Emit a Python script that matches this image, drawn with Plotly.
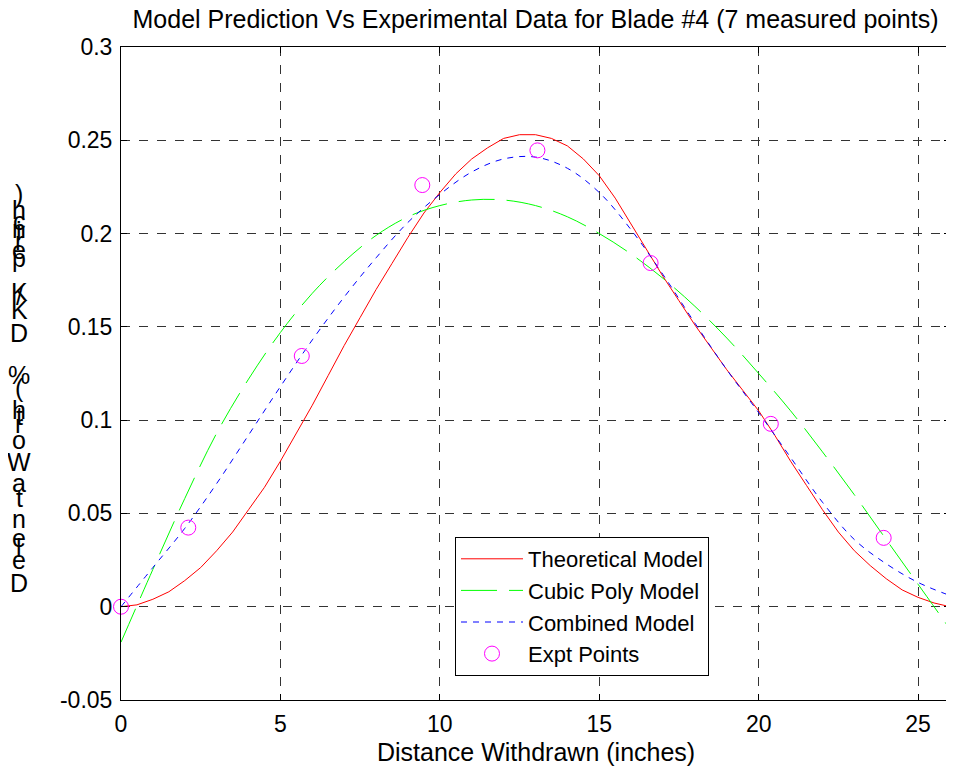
import plotly.graph_objects as go

# ---- data ----
x_theory = [i * 0.5 for i in range(53)]
theoretical = [0.000, 0.001, 0.004, 0.008, 0.014, 0.021, 0.030, 0.040, 0.052, 0.064,
               0.078, 0.093, 0.108, 0.124, 0.140, 0.155, 0.170, 0.184, 0.198, 0.211,
               0.222, 0.232, 0.240, 0.246, 0.251, 0.253, 0.253, 0.251, 0.247, 0.240,
               0.231, 0.219, 0.205, 0.191, 0.177, 0.164, 0.151, 0.139, 0.127, 0.116,
               0.105, 0.092, 0.078, 0.065, 0.052, 0.040, 0.030, 0.022, 0.015, 0.009,
               0.005, 0.002, 0.000]
x_model = list(range(27))
cubic_poly = [-0.019, 0.020, 0.058, 0.093, 0.122, 0.147, 0.168, 0.185, 0.199, 0.209,
              0.215, 0.218, 0.218, 0.215, 0.209, 0.200, 0.189, 0.176, 0.161, 0.144,
              0.125, 0.105, 0.083, 0.060, 0.036, 0.012, -0.012]
combined = [0.0, 0.021, 0.042, 0.066, 0.092, 0.118, 0.143, 0.166, 0.187, 0.206,
            0.221, 0.233, 0.240, 0.241, 0.235, 0.222, 0.202, 0.178, 0.152, 0.127,
            0.104, 0.080, 0.056, 0.036, 0.023, 0.013, 0.006]
expt_x = [0.0, 2.11, 5.67, 9.45, 13.06, 16.61, 20.38, 23.92, 26.05]
expt_y = [0.0, 0.0424, 0.1344, 0.226, 0.2446, 0.1842, 0.098, 0.0369, 0.0]

x_tickvals = [0, 5, 10, 15, 20, 25]
x_ticktext = ["0", "5", "10", "15", "20", "25"]
y_tickvals = [-0.05, 0, 0.05, 0.1, 0.15, 0.2, 0.25, 0.3]
y_ticktext = ["-0.05", "0", "0.05", "0.1", "0.15", "0.2", "0.25", "0.3"]

title_text = "Model Prediction Vs Experimental Data for Blade #4 (7 measured points)"
xlabel_text = "Distance Withdrawn (inches)"
# y label as drawn in the reference: characters stacked vertically (top -> bottom)
ylabel_chars = [")", "h", "c", "n", "i", "r", "e", "p", "K", "/", "K", "D", "%", "(",
                "h", "t", "r", "o", "W", "a", "t", "n", "e", "l", "e", "D"]

# ---- layout constants (page pixels; the page body has an 8px margin) ----
OFF = 8
W, H = 954 - OFF, 774 - OFF
PLOT_L, PLOT_R, PLOT_T, PLOT_B = 121, 950, 47, 700
ML, MR, MT = PLOT_L - OFF, W - (PLOT_R - OFF), PLOT_T - OFF
MB = H - (PLOT_B - OFF)
PW, PH = PLOT_R - PLOT_L, PLOT_B - PLOT_T
ylabel_py = [194, 210, 221, 229, 231, 241, 250, 258, 292, 296, 310, 333, 375, 388,
             410, 416, 424, 440, 462, 483, 498, 519, 538, 548, 560, 583]


def px_x(p):
    return (p - PLOT_L) / PW


def px_y(p):
    return (PLOT_B - p) / PH


FONT = "Liberation Sans, Arial, sans-serif"
TXT = 25
TICK = 23
LEG = 22

fig = go.Figure()
fig.add_trace(go.Scatter(x=x_theory, y=theoretical, mode="lines", name="Theoretical Model",
                         line=dict(color="#ff0000", width=1)))
fig.add_trace(go.Scatter(x=x_model, y=cubic_poly, mode="lines", name="Cubic Poly Model",
                         line=dict(color="#00ff00", width=1, dash="36px,12px", shape="spline")))
fig.add_trace(go.Scatter(x=x_model, y=combined, mode="lines", name="Combined Model",
                         line=dict(color="#0000ff", width=1, dash="6px,6px", shape="spline")))
fig.add_trace(go.Scatter(x=expt_x, y=expt_y, mode="markers", name="Expt Points",
                         marker=dict(symbol="circle-open", size=15, color="#ff00ff",
                                     line=dict(width=1, color="#ff00ff")),
                         cliponaxis=False))

axis_common = dict(showline=True, linecolor="black", linewidth=1, mirror="ticks",
                   ticks="inside", ticklen=6, tickcolor="black",
                   showgrid=True, gridcolor="#333333", griddash="dash", gridwidth=1,
                   zeroline=False, tickfont=dict(family=FONT, size=TICK, color="black"))

fig.update_xaxes(range=[0, 26], tickvals=x_tickvals, ticktext=x_ticktext,
                 ticklabelstandoff=3, **axis_common)
fig.update_yaxes(range=[-0.05, 0.3], tickvals=y_tickvals, ticktext=y_ticktext,
                 ticklabelstandoff=3, **axis_common)

for ch, py in zip(ylabel_chars, ylabel_py):
    fig.add_annotation(text=ch, xref="paper", yref="paper",
                       x=px_x(19), y=px_y(py),
                       xanchor="center", yanchor="middle", showarrow=False,
                       font=dict(family=FONT, size=TXT, color="black"))

fig.add_annotation(text=xlabel_text, xref="paper", yref="paper",
                   x=px_x(535.5), y=px_y(752), xanchor="center", yanchor="middle",
                   showarrow=False, font=dict(family=FONT, size=TXT, color="black"))

fig.update_layout(
    width=W, height=H,
    margin=dict(l=ML, r=MR, t=MT, b=MB, autoexpand=False),
    paper_bgcolor="white", plot_bgcolor="white",
    title=dict(text=title_text, x=px_x(535.5), xref="paper", xanchor="center",
               y=1 - (19 - OFF) / H, yref="container", yanchor="middle",
               font=dict(family=FONT, size=TXT, color="black")),
    legend=dict(x=px_x(455), y=px_y(537), xanchor="left", yanchor="top",
                bgcolor="white", bordercolor="black", borderwidth=1,
                font=dict(family=FONT, size=LEG, color="black"),
                itemwidth=62, tracegroupgap=0),
    showlegend=True,
)

fig.write_html("out.html")
